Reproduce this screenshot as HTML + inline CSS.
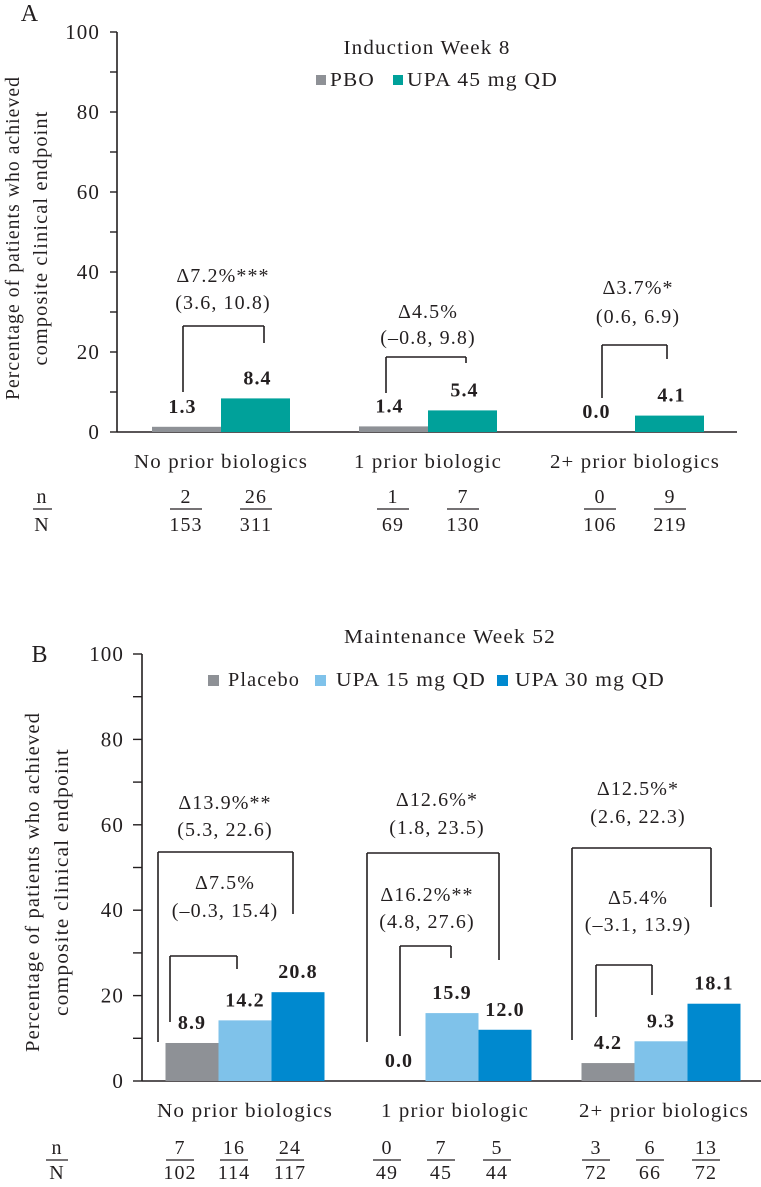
<!DOCTYPE html>
<html><head><meta charset="utf-8"><style>
html,body{margin:0;padding:0;background:#fff;}
svg{display:block;font-family:"Liberation Serif",serif;}
text{letter-spacing:1.1px;fill:#231f20;}
</style></head><body>
<svg id="chart" width="761" height="1187" viewBox="0 0 761 1187" xmlns="http://www.w3.org/2000/svg"></svg>
<script>
// ---- Panel A data ----
const catsA = ["No prior biologics","1 prior biologic","2+ prior biologics"];
const seriesA = ["PBO","UPA 45 mg QD"];
const pboA = [1.3, 1.4, 0.0];
const upa45A = [8.4, 5.4, 4.1];
const nA = [["2","26"],["1","7"],["0","9"]];
const NA = [["153","311"],["69","130"],["106","219"]];
const deltaA = ["Δ7.2%***","Δ4.5%","Δ3.7%*"];
const ciA = ["(3.6, 10.8)","(–0.8, 9.8)","(0.6, 6.9)"];
const ticksA = [0,20,40,60,80,100];
// ---- Panel B data ----
const catsB = ["No prior biologics","1 prior biologic","2+ prior biologics"];
const seriesB = ["Placebo","UPA 15 mg QD","UPA 30 mg QD"];
const pboB = [8.9, 0.0, 4.2];
const upa15B = [14.2, 15.9, 9.3];
const upa30B = [20.8, 12.0, 18.1];
const nB = [["7","16","24"],["0","7","5"],["3","6","13"]];
const NB = [["102","114","117"],["49","45","44"],["72","66","72"]];
const deltaOuterB = ["Δ13.9%**","Δ12.6%*","Δ12.5%*"];
const ciOuterB = ["(5.3, 22.6)","(1.8, 23.5)","(2.6, 22.3)"];
const deltaInnerB = ["Δ7.5%","Δ16.2%**","Δ5.4%"];
const ciInnerB = ["(–0.3, 15.4)","(4.8, 27.6)","(–3.1, 13.9)"];
const ticksB = [0,20,40,60,80,100];

const svg = document.getElementById('chart');
const NS = "http://www.w3.org/2000/svg";
function mk(tag, attrs, parent){const e=document.createElementNS(NS,tag);for(const k in attrs)e.setAttribute(k,attrs[k]);(parent||svg).appendChild(e);return e;}
function txt(x,y,s,size,anchor,weight,parent,tl){const a={x:x,y:y,'font-size':size,'text-anchor':anchor||'middle','dominant-baseline':'central','font-weight':weight||'normal'};if(tl){a.textLength=tl;a.lengthAdjust='spacingAndGlyphs';}const t=mk('text',a,parent);t.textContent=s;return t;}
function line(x1,y1,x2,y2,parent,w){return mk('line',{x1:x1,y1:y1,x2:x2,y2:y2,stroke:'#231f20','stroke-width':w||1.6},parent);}
const FS=20;

// ===== Panel A =====
const yA = v => 432 - v*4.0;
const centersA = [221,428,635];
const bwA = 69;
const colA = ['#8e9196','#00a19a'];
const gA = mk('g',{});


let t = txt(30,14,"A",24,'middle','normal',gA);
 
line(117,yA(100),117,yA(0),gA);
line(117,yA(0),737,yA(0),gA);
for(let v=0; v<=100; v+=10){ line(110,yA(v),117,yA(v),gA,1.4); }
ticksA.forEach(v=>{const e=txt(100,yA(v),String(v),21,'end','normal',gA);
 });
const ytA = mk('g',{transform:'translate(27,238) rotate(-90)'},gA);
 
txt(0,-14,"Percentage of patients who achieved",FS,'middle','normal',ytA,324);
txt(0,14,"composite clinical endpoint",FS,'middle','normal',ytA,255);
t=txt(427,48,"Induction Week 8",FS,'middle','normal',gA,167);
 
let r=mk('rect',{x:316,y:75,width:10,height:10,fill:colA[0]},gA);
 
t=txt(330,80,seriesA[0],FS,'start','normal',gA,45);
 
r=mk('rect',{x:393,y:75,width:10,height:10,fill:colA[1]},gA);
 
t=txt(407,80,seriesA[1],FS,'start','normal',gA,151);
 
const valsA=[pboA,upa45A];
const brTopA=[326,357,345], brL=[183,386,602], brR=[264,466,667], brLb=[392,393,398], brRb=[343,363,359];
const dAy=[[276,303],[312,338],[288,317]], dAx=[223,428,638];
const catW=[174,148,170];
centersA.forEach((c,i)=>{
  valsA.forEach((arr,s)=>{
    const x0 = c - bwA + s*bwA;
    const b = mk('rect',{x:x0,y:yA(arr[i]),width:bwA,height:yA(0)-yA(arr[i]),fill:colA[s]},gA);
    
    
    const l = txt(x0+bwA/2 - (s===0?4:-2), yA(arr[i])-20, arr[i].toFixed(1),FS,'middle','bold',gA);
    
    
  });
  const br = mk('g',{},gA);
   
  line(brL[i],brLb[i],brL[i],brTopA[i],br); line(brL[i],brTopA[i],brR[i],brTopA[i],br); line(brR[i],brTopA[i],brR[i],brRb[i],br);
  const d=txt(dAx[i],dAy[i][0],deltaA[i],FS,'middle','normal',gA);
   
  const ci=txt(dAx[i],dAy[i][1],ciA[i],FS,'middle','normal',gA);
   
  const cl=txt(c,462,catsA[i],FS,'middle','normal',gA,catW[i]);
   
  [c-35,c+35].forEach((x,s)=>{
    const f=mk('g',{},gA);
     
    txt(x,497,nA[i][s],FS,'middle','normal',f);
    line(x-16,509,x+16,509,f,1.3);
    txt(x,525,NA[i][s],FS,'middle','normal',f);
  });
});
const nlA=mk('g',{},gA);
 
txt(42,497,"n",FS,'middle','normal',nlA); line(33,509,52,509,nlA,1.3); txt(42,525,"N",FS,'middle','normal',nlA);

// ===== Panel B =====
const yB = v => 1081 - v*4.27;
const centersB = [245,452,661];
const bwB = 53;
const colB = ['#8e9196','#7fc2ea','#0089cf'];
const gB = mk('g',{});


t=txt(40,655,"B",24,'middle','normal',gB);
 
line(142,yB(100),142,yB(0),gB);
line(142,yB(0),761,yB(0),gB);
for(let v=0; v<=100; v+=10){ line(133,yB(v),142,yB(v),gB,1.4); }
ticksB.forEach(v=>{const e=txt(124,yB(v),String(v),21,'end','normal',gB);
 });
const ytB = mk('g',{transform:'translate(47,882) rotate(-90)'},gB);
 
txt(0,-14,"Percentage of patients who achieved",FS,'middle','normal',ytB,340);
txt(0,15,"composite clinical endpoint",FS,'middle','normal',ytB,268);
t=txt(450,637,"Maintenance Week 52",FS,'middle','normal',gB,212);
 
const legX=[[208,228],[315,336],[497,515]];
const legW=[72,150,150];
seriesB.forEach((s,k)=>{
  const sw=mk('rect',{x:legX[k][0],y:675,width:11,height:11,fill:colB[k]},gB);
   
  const lt=txt(legX[k][1],680,s,FS,'start','normal',gB,legW[k]);
   
});
const valsB=[pboB,upa15B,upa30B];
const outerTop=[852,853,848], outerL=[158,367,572], outerR=[293,499,711], outerLb=[1042,1042,1040], outerRb=[914,960,907];
const innerTop=[956,946,965], innerL=[170,400,596], innerR=[237,451,652], innerLb=[1022,1036,1017], innerRb=[969,958,995];
const dOut=[[803,830],[800,828],[789,817]], dIn=[[883,911],[895,922],[898,925]];
const dOutX=[225,437,638], dInX=[225,427,638];
const catWB=[176,148,170];
centersB.forEach((c,i)=>{
  valsB.forEach((arr,s)=>{
    const x0 = c - 1.5*bwB + s*bwB;
    const b = mk('rect',{x:x0,y:yB(arr[i]),width:bwB,height:yB(0)-yB(arr[i]),fill:colB[s]},gB);
    
    
    const l=txt(x0+bwB/2, yB(arr[i])-20, arr[i].toFixed(1),FS,'middle','bold',gB);
    
    
  });
  const bo=mk('g',{},gB);
   
  line(outerL[i],outerLb[i],outerL[i],outerTop[i],bo); line(outerL[i],outerTop[i],outerR[i],outerTop[i],bo); line(outerR[i],outerTop[i],outerR[i],outerRb[i],bo);
  const bi=mk('g',{},gB);
   
  line(innerL[i],innerLb[i],innerL[i],innerTop[i],bi); line(innerL[i],innerTop[i],innerR[i],innerTop[i],bi); line(innerR[i],innerTop[i],innerR[i],innerRb[i],bi);
  let e=txt(dOutX[i],dOut[i][0],deltaOuterB[i],FS,'middle','normal',gB);
   
  e=txt(dOutX[i],dOut[i][1],ciOuterB[i],FS,'middle','normal',gB);
   
  e=txt(dInX[i],dIn[i][0],deltaInnerB[i],FS,'middle','normal',gB);
   
  e=txt(dInX[i],dIn[i][1],ciInnerB[i],FS,'middle','normal',gB);
   
  e=txt(c+(i===0?0:3),1111,catsB[i],FS,'middle','normal',gB,catWB[i]);
   
  [c-65,c-11,c+45].forEach((x,s)=>{
    const f=mk('g',{},gB);
     
    txt(x,1148,nB[i][s],FS,'middle','normal',f);
    line(x-14,1160,x+14,1160,f,1.3);
    txt(x,1173,NB[i][s],FS,'middle','normal',f);
  });
});
const nlB=mk('g',{},gB);
 
txt(57,1148,"n",FS,'middle','normal',nlB); line(46,1160,68,1160,nlB,1.3); txt(57,1173,"N",FS,'middle','normal',nlB);
</script>
</body></html>
